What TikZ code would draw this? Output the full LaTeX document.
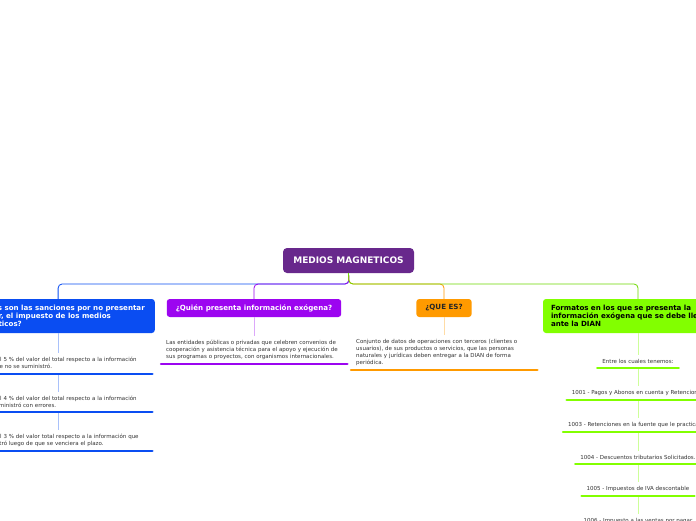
\documentclass[tikz,border=0pt]{standalone}
\usepackage{fontspec}
\setmainfont{DejaVu Sans}
\usetikzlibrary{positioning}
\definecolor{rootpurple}{HTML}{68288C}
\definecolor{cblue}{HTML}{0A4DF2}
\definecolor{cpurple}{HTML}{9C05F0}
\definecolor{corange}{HTML}{FF9A00}
\definecolor{cgreen}{HTML}{82FF00}
\definecolor{itemgray}{HTML}{333333}

\begin{document}
\begin{tikzpicture}[x=1pt,y=-1pt,
  topic/.style={rounded corners=3pt,text=white,font=\bfseries\fontsize{7.1}{8}\selectfont,inner xsep=9pt,inner ysep=2pt},
  item/.style={font=\fontsize{5.5}{7}\selectfont,text=itemgray,align=left,inner xsep=5pt,inner ysep=4pt},
  gitem/.style={font=\fontsize{5.5}{7}\selectfont,text=itemgray,inner xsep=5pt,inner ysep=4pt,anchor=south},
  link/.style={line width=0.8pt,rounded corners=4pt},
  stem/.style={line width=1pt},
  uline/.style={line width=2.4pt,line cap=round}]
\useasboundingbox (0,0) rectangle (696,520);
\clip (0,0) rectangle (696,520);
\fill[white] (0,0) rectangle (696,520);

% central topic
\node[fill=rootpurple,rounded corners=4pt,text=white,font=\bfseries\fontsize{9}{10}\selectfont,
  minimum width=131pt,minimum height=25pt] (root) at (348.5,260.5) {MEDIOS MAGNETICOS};
\coordinate (hub) at (349,284);

% main branches
\node[topic,fill=cblue,inner xsep=10pt,minimum height=34pt,align=left,anchor=east] (qcual) at (155,316)
  {¿Cuáles son las sanciones por no presentar\\o pagar, el impuesto de los medios\\magnéticos?};
\node[topic,fill=cpurple,minimum width=168pt,minimum height=18pt] (qquien) at (254,308)
  {¿Quién presenta información exógena?};
\node[topic,fill=corange,text=black!85,minimum width=52pt,minimum height=18pt] (qque) at (444,308)
  {¿QUE ES?};
\node[topic,fill=cgreen,text=black,inner xsep=8pt,text width=174pt,minimum height=34pt,align=left] (qform) at (638,316)
  {Formatos en los que se presenta la\\información exógena que se debe llevar\\ante la DIAN};

\draw[link,cblue] (root.south) -- (hub) -| (qcual.north);
\draw[link,cpurple] (root.south) -- (hub) -| (qquien.north);
\draw[link,corange] (root.south) -- (hub) -| (qque.north);
\draw[link,cgreen!85!black] (root.south) -- (hub) -| (qform.north);

% sanciones
\node[item,anchor=south west,text width=154.6pt] (c1) at (-12.6,374)
  {Del 5 \% del valor del total respecto a la información\\que no se suministró.};
\node[item,anchor=south west,text width=154.6pt] (c2) at (-12.6,412)
  {Del 4 \% del valor del total respecto a la información\\suministró con errores.};
\node[item,anchor=south west,text width=154.6pt] (c3) at (-12.6,451)
  {Del 3 \% del valor total respecto a la información que\\entró luego de que se venciera el plazo.};
\draw[stem,cblue!35] (qcual.south) -- (qcual.south |- c1.north);
\draw[stem,cblue!35] (c1.south -| qcual.south) -- (c2.north -| qcual.south);
\draw[stem,cblue!35] (c2.south -| qcual.south) -- (c3.north -| qcual.south);
\draw[uline,cblue] (c1.south west) -- (c1.south east);
\draw[uline,cblue] (c2.south west) -- (c2.south east);
\draw[uline,cblue] (c3.south west) -- (c3.south east);

% quien presenta
\node[item,anchor=south west,text width=176pt] (w1) at (161,364)
  {Las entidades públicas o privadas que celebren convenios de\\cooperación y asistencia técnica para el apoyo y ejecución de\\sus programas o proyectos, con organismos internacionales.};
\draw[stem,cpurple!35] (qquien.south) -- (w1.north -| qquien.south);
\draw[uline,cpurple] (w1.south west) -- (w1.south east);

% que es
\node[item,anchor=south west,text width=176pt] (e1) at (351,370)
  {Conjunto de datos de operaciones con terceros (clientes o\\usuarios), de sus productos o servicios, que las personas\\naturales y jurídicas deben entregar a la DIAN de forma\\periódica.};
\draw[stem,corange!35] (qque.south) -- (e1.north -| qque.south);
\draw[uline,corange] (e1.south west) -- (e1.south east);

% formatos
\node[gitem] (f0) at (638,368) {Entre los cuales tenemos:};
\node[gitem] (f1) at (638,400) {1001 - Pagos y Abonos en cuenta y Retenciones};
\node[gitem] (f2) at (638,432) {1003 - Retenciones en la fuente que le practicaron};
\node[gitem] (f3) at (638,464) {1004 - Descuentos tributarios Solicitados.};
\node[gitem] (f4) at (638,496) {1005 - Impuestos de IVA descontable};
\node[gitem] (f5) at (638,528) {1006 - Impuesto a las ventas por pagar};
\draw[stem,cgreen!40] (qform.south) -- (f0.north);
\draw[stem,cgreen!40] (f0.south) -- (f1.north);
\draw[stem,cgreen!40] (f1.south) -- (f2.north);
\draw[stem,cgreen!40] (f2.south) -- (f3.north);
\draw[stem,cgreen!40] (f3.south) -- (f4.north);
\draw[stem,cgreen!40] (f4.south) -- (f5.north);
\draw[uline,cgreen] (f0.south west) -- (f0.south east);
\draw[uline,cgreen] (f1.south west) -- (f1.south east);
\draw[uline,cgreen] (f2.south west) -- (f2.south east);
\draw[uline,cgreen] (f3.south west) -- (f3.south east);
\draw[uline,cgreen] (f4.south west) -- (f4.south east);
\end{tikzpicture}
\end{document}
